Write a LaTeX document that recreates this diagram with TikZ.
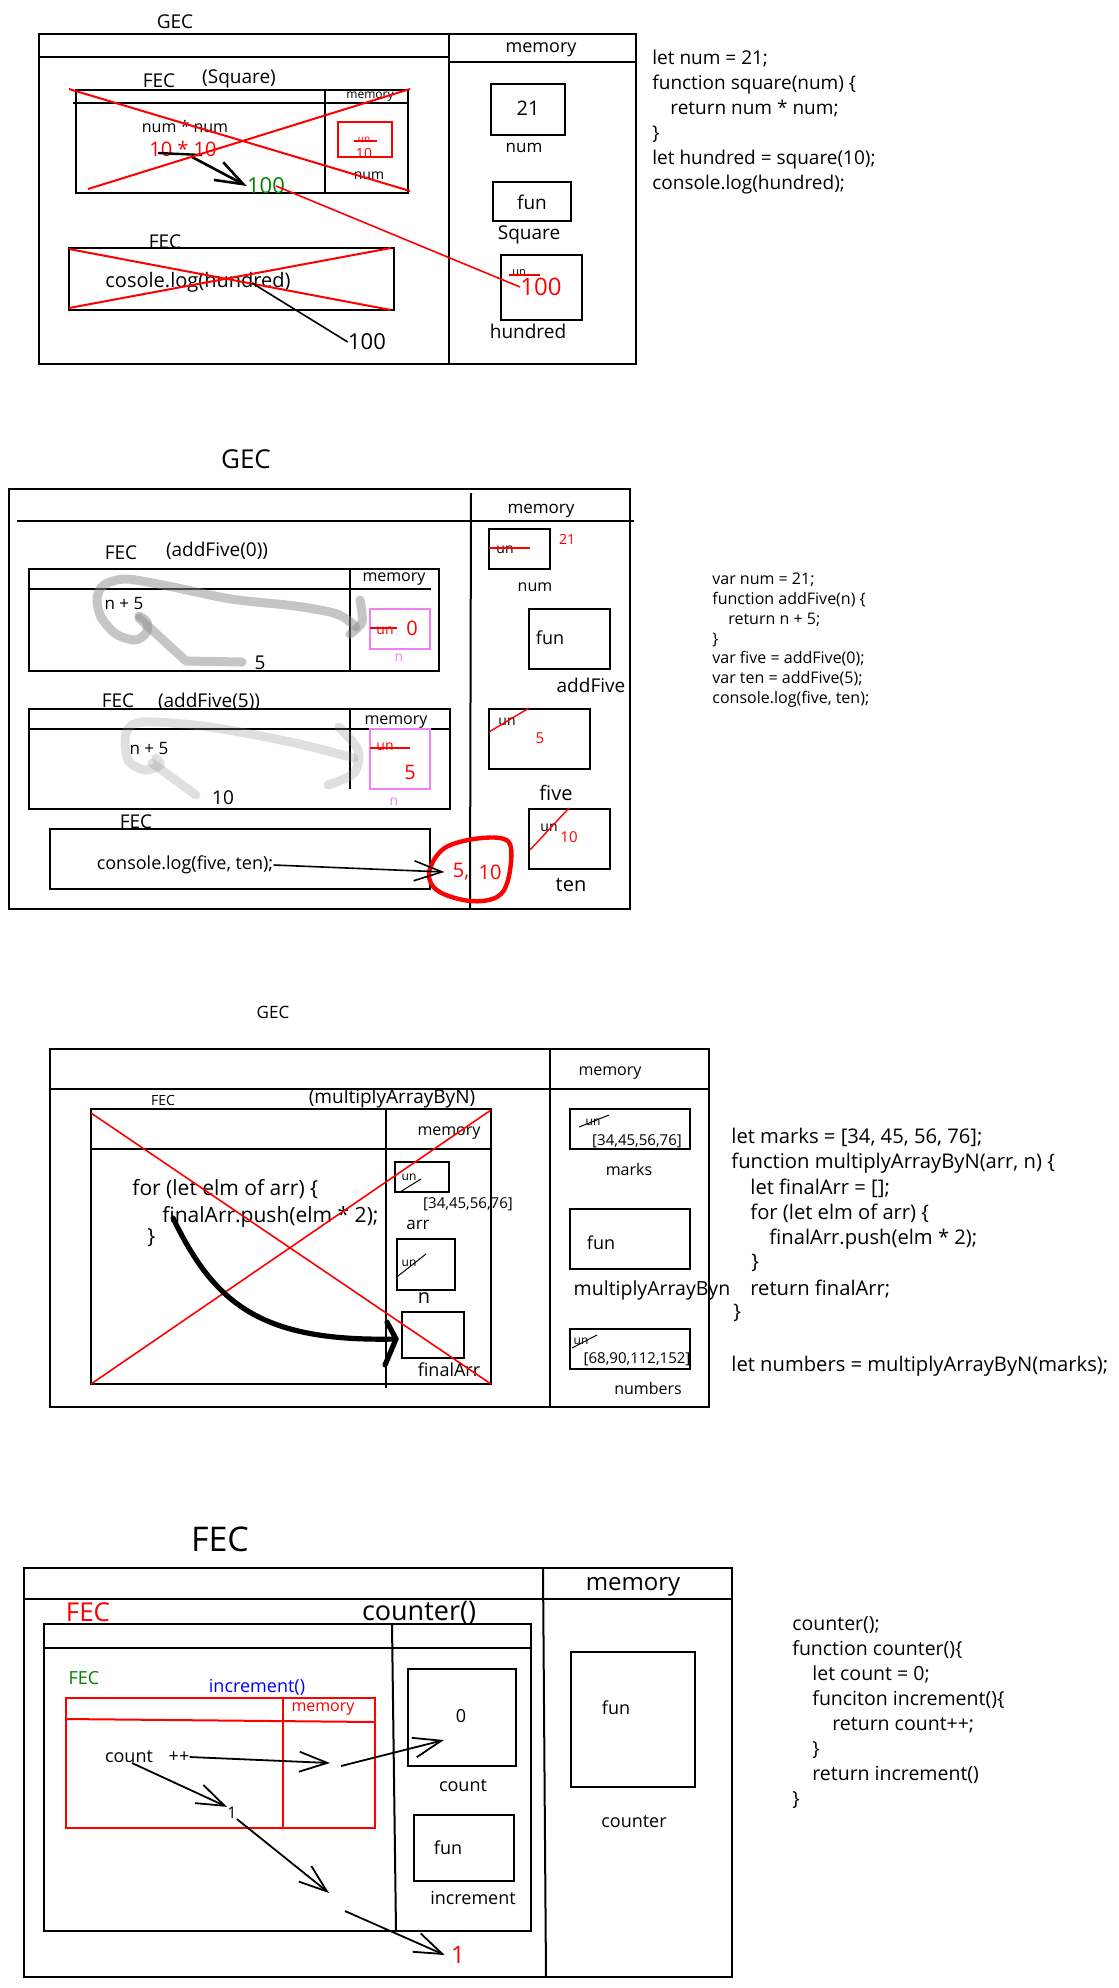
\documentclass[tikz,border=0pt]{standalone}
\usepackage{fontspec}
\setmainfont{Open Sans}
\usetikzlibrary{arrows.meta}
% font size given in drawing units (1 unit = 0.5pt)
\newcommand\px[1]{\fontsize{\fpeval{#1*0.5}pt}{\fpeval{#1*0.6}pt}\selectfont}
\newcommand\ind[1]{\hspace*{\fpeval{#1*0.5}pt}}
\definecolor{inkred}{HTML}{FF0000}
\definecolor{inkgreen}{HTML}{008000}
\definecolor{inkblue}{HTML}{0000FF}
\definecolor{inkviolet}{HTML}{EE82EE}
\tikzset{
  lab/.style={inner sep=0pt, font=\px{#1}},
  lab/.default=18,
  code/.style={inner sep=0pt, anchor=base west, font=\px{#1}},
  frame/.style={draw=black, line width=1pt},
  thinframe/.style={draw=black, line width=0.6pt},
  cross/.style={draw=inkred, line width=1pt},
  strike/.style={draw=inkred, line width=0.7pt},
  slash/.style={draw=black, line width=0.5pt},
  vbox/.style={draw=inkviolet, line width=0.7pt},
  hl/.style={draw=black!45, line width=4.5pt, line cap=round, line join=round, opacity=0.5},
  hlfaint/.style={hl, opacity=0.28},
  ptr/.style={draw=black, line width=0.9pt, -{Straight Barb[length=14pt,width=10pt]}},
}
\begin{document}
\begin{tikzpicture}[x=0.5pt,y=-0.5pt]
\useasboundingbox (0,0) rectangle (1119,1988);

% ================= square(10) =================
\node[lab=19] (gec1) at (175,22) {GEC};
\draw[frame] (39,34) rectangle (636,364);
\draw[frame] (39,57) -- (449,57);
\draw[frame] (449,62) -- (636,62);
\draw[frame] (449,34) -- (449,364);
\node[lab=18] (mem1) at (541,50) {memory};
\draw[frame] (491,84) rectangle (565,135);
\node[lab=20] (v21) at (528,108) {21};
\node[lab=17] (numlab1) at (524,148) {num};
\draw[frame] (493,182) rectangle (571,221);
\node[lab=19] (fun1) at (532,202) {fun};
\node[lab=19] (sqlab) at (529,235) {Square};
\draw[frame] (501,255) rectangle (582,320);
\node[lab=11] (un1) at (519,273) {un};
\draw[strike] (509,275) -- (540,275);
\node[lab=24, text=inkred] (h100) at (541,287) {100};
\node[lab=19] (hlab) at (528,331) {hundred};

\node[lab=19] (fec1) at (159,81) {FEC};
\node[lab=19] (fec1n) at (239,79) {(Square)};
\draw[frame] (76,90) rectangle (408,193);
\draw[frame] (73,103) -- (408,103);
\draw[frame] (325,90) -- (325,193);
\node[lab=12] (mem1b) at (370,97) {memory};
\node[lab=16] (expr1) at (185,126) {num * num};
\node[lab=20, text=inkred] (expr1v) at (183,149) {10 * 10};
\draw[draw=inkred, line width=1.2pt] (338,122) rectangle (392,157);
\node[lab=10, text=inkred] (un1b) at (364,140) {un};
\draw[strike] (354,141) -- (377,141);
\node[lab=14, text=inkred] (v10) at (364,153) {10};
\node[lab=14] (numlab1b) at (369,176) {num};
\node[lab=22, text=inkgreen] (g100) at (266,186) {100};
\coordinate (ret1) at (158,153);
\draw[line width=1.2pt] (ret1) -- (202,155);
\draw[ptr, line width=1.3pt] (192,157) -- (g100.west);
\draw[cross] (69,89) -- (410,191);
\draw[cross] (88,189) -- (410,89);
\draw[draw=inkred, line width=0.8pt] ([xshift=5pt]g100.center) -- (h100.west);

\node[lab=19] (fec1c) at (165,242) {FEC};
\draw[frame] (69,248) rectangle (394,310);
\node[lab=20] (log1) at (198,282) {cosole.log(hundred)};
\draw[cross] (69,249) -- (391,310);
\draw[cross] (69,308) -- (391,248);
\node[lab=22] (out100) at (367,342) {100};
\draw[line width=0.8pt] (252,283) -- (out100.west);

\node[code=19] (c1a) at (652,64) {let num = 21;};
\node[code=19] (c1b) at (652,89) {function square(num) \{};
\node[code=19] (c1c) at (652,114) {\ind{18}return num * num;};
\node[code=19] (c1d) at (652,139) {\}};
\node[code=19] (c1e) at (652,164) {let hundred = square(10);};
\node[code=19] (c1f) at (652,189) {console.log(hundred);};

% ================= addFive =================
\node[lab=26] (gec2) at (246,459) {GEC};
\draw[frame] (9,489) rectangle (630,909);
\draw[frame] (17,521) -- (634,521);
\draw[frame] (471,493) -- (470,909);
\node[lab=17] (mem2) at (541,511) {memory};
\draw[frame] (489,529) rectangle (550,569);
\node[lab=14] (un2a) at (505,550) {un};
\draw[strike] (489,548) -- (530,548);
\node[lab=14, text=inkred] (r21) at (567,539) {21};
\node[lab=16] (numlab2) at (535,587) {num};
\draw[frame] (529,609) rectangle (610,669);
\node[lab=18] (fun2) at (550,638) {fun};
\node[lab=19] (addlab) at (591,685) {addFive};
\draw[frame] (489,709) rectangle (590,769);
\node[lab=14] (un2b) at (507,722) {un};
\draw[strike] (489,732) -- (529,708);
\node[lab=15, text=inkred] (r5) at (540,738) {5};
\node[lab=20] (fivelab) at (556,793) {five};
\draw[frame] (529,809) rectangle (610,869);
\node[lab=14] (un2c) at (549,828) {un};
\draw[strike] (530,850) -- (569,808);
\node[lab=15, text=inkred] (r10) at (569,837) {10};
\node[lab=20] (tenlab) at (571,885) {ten};

% addFive(0)
\node[lab=19] (fec2a) at (121,553) {FEC};
\node[lab=19] (fec2an) at (217,551) {(addFive(0))};
\draw[frame] (29,569) rectangle (439,671);
\draw[frame] (29,589) -- (431,589);
\draw[frame] (350,569) -- (350,671);
\node[lab=16] (mem2a) at (394,579) {memory};
\draw[hl] plot[smooth] coordinates {(360,600) (362,622) (350,634)};
\draw[hl] plot[smooth] coordinates {(356,627) (337,614) (295,606) (231,599) (168,586) (126,579) (104,585) (97,598) (101,617) (116,634) (135,640) (146,633) (147,622) (139,616)};
\draw[hl] (139,618) -- (186,661) -- (242,662);
\node[lab=17] (np5a) at (124,604) {n + 5};
\node[lab=19] (res5) at (260,663) {5};
\draw[vbox] (370,609) rectangle (430,649);
\node[lab=14, text=inkred] (un2d) at (385,631) {un};
\draw[strike] (370,628) -- (397,628);
\node[lab=20, text=inkred] (r0) at (412,628) {0};
\node[lab=14, text=inkviolet] (nlab1) at (399,658) {n};

% addFive(5)
\node[lab=19] (fec2b) at (118,701) {FEC};
\node[lab=19] (fec2bn) at (209,702) {(addFive(5))};
\draw[frame] (29,709) rectangle (450,809);
\draw[frame] (29,729) -- (450,729);
\draw[frame] (350,709) -- (350,789);
\node[lab=16] (mem2b) at (396,722) {memory};
\draw[hlfaint] plot[smooth] coordinates {(339,727) (358,750) (354,773) (328,785)};
\draw[hlfaint] plot[smooth] coordinates {(354,758) (295,743) (210,727) (143,722) (126,733) (128,760) (145,770) (160,765) (156,758)};
\draw[hlfaint] (152,763) -- (196,795);
\node[lab=17] (np5b) at (149,749) {n + 5};
\node[lab=19] (res10) at (223,798) {10};
\draw[vbox] (370,729) rectangle (430,789);
\node[lab=14, text=inkred] (un2e) at (385,747) {un};
\draw[strike] (370,748) -- (410,748);
\node[lab=20, text=inkred] (r5b) at (410,772) {5};
\node[lab=14, text=inkviolet] (nlab2) at (394,802) {n};

% console.log(five, ten)
\node[lab=19] (fec2c) at (136,822) {FEC};
\draw[frame] (50,829) rectangle (430,889);
\node[lab=18] (log2) at (185,865) {console.log(five, ten);};
\draw[draw=inkred, line width=2.2pt, line join=round] plot[smooth cycle, tension=0.6] coordinates {(429,873) (442,850) (468,840) (500,838) (511,848) (508,880) (497,897) (470,901) (438,891)};
\node[lab=20, text=inkred] (o5) at (461,872) {5,};
\node[lab=20, text=inkred] (o10) at (490,872) {10};
\draw[ptr, line width=0.8pt] (log2.east) -- ([xshift=-4pt]o5.west);

\node[code=16] (c2a) at (712,584) {var num = 21;};
\node[code=16] (c2b) at (712,604) {function addFive(n) \{};
\node[code=16] (c2c) at (712,624) {\ind{16}return n + 5;};
\node[code=16] (c2d) at (712,644) {\}};
\node[code=16] (c2e) at (712,663) {var five = addFive(0);};
\node[code=16] (c2f) at (712,683) {var ten = addFive(5);};
\node[code=16] (c2g) at (712,703) {console.log(five, ten);};

% ================= multiplyArrayByN =================
\node[lab=17] (gec3) at (273,1012) {GEC};
\draw[thinframe] (50,1049) rectangle (709,1407);
\draw[thinframe] (50,1089) -- (709,1089);
\draw[thinframe] (550,1049) -- (550,1407);
\node[lab=16] (mem3) at (610,1073) {memory};
\node[lab=14] (fec3) at (163,1100) {FEC};
\node[lab=19] (fec3n) at (392,1099) {(multiplyArrayByN)};
\draw[thinframe] (91,1109) rectangle (491,1384);
\draw[thinframe] (91,1149) -- (491,1149);
\draw[thinframe] (386,1109) -- (386,1388);
\node[lab=16] (mem3b) at (449,1133) {memory};
\node[code=21] (loop1) at (132,1195) {for (let elm of arr) \{};
\node[code=21] (loop2) at (162,1222) {finalArr.push(elm * 2);};
\node[code=21] (loop3) at (147,1243) {\}};
\draw[thinframe] (395,1162) rectangle (449,1192);
\node[lab=12] (un3a) at (409,1177) {un};
\draw[slash] (400,1192) -- (421,1179);
\node[lab=15] (arrv) at (468,1204) {[34,45,56,76]};
\node[lab=17] (arrlab) at (418,1225) {arr};
\draw[thinframe] (397,1239) rectangle (455,1290);
\node[lab=12] (un3b) at (409,1263) {un};
\draw[slash] (398,1276) -- (426,1254);
\node[lab=20] (nlab3) at (424,1298) {n};
\draw[thinframe] (402,1312) rectangle (464,1358);
\coordinate (fa) at (396,1339);
\node[lab=18] (falab) at (449,1370) {finalArr};
\draw[cross, line width=0.8pt] (91,1113) -- (491,1384);
\draw[cross, line width=0.8pt] (91,1384) -- (491,1110);
\draw[line width=2.6pt, line cap=round, line join=round] (173,1218) .. controls (215,1305) and (262,1342) .. (fa);
\draw[line width=2.6pt, line cap=round, line join=round] (387,1322) -- (fa) -- (385,1365);

\draw[thinframe] (570,1109) rectangle (690,1149);
\node[lab=12] (un3c) at (593,1122) {un};
\draw[slash] (579,1127) -- (609,1115);
\node[lab=15] (marksv) at (637,1141) {[34,45,56,76]};
\node[lab=16] (markslab) at (629,1169) {marks};
\draw[thinframe] (570,1209) rectangle (690,1269);
\node[lab=18] (fun3) at (601,1243) {fun};
\node[lab=19.5] (mablab) at (652,1290) {multiplyArrayByn};
\draw[thinframe] (570,1329) rectangle (690,1369);
\node[lab=12] (un3d) at (581,1341) {un};
\draw[slash] (572,1348) -- (597,1335);
\node[lab=15] (numsv) at (637,1359) {[68,90,112,152]};
\node[lab=16] (numslab) at (648,1388) {numbers};

\node[code=20.2] (c3a) at (731,1143) {let marks = [34, 45, 56, 76];};
\node[code=20.2] (c3b) at (731,1168) {function multiplyArrayByN(arr, n) \{};
\node[code=20.2] (c3c) at (750,1194) {let finalArr = [];};
\node[code=20.2] (c3d) at (750,1219) {for (let elm of arr) \{};
\node[code=20.2] (c3e) at (769,1244) {finalArr.push(elm * 2);};
\node[code=20.2] (c3f) at (751,1268) {\}};
\node[code=20.2] (c3g) at (750,1295) {return finalArr;};
\node[code=20.2] (c3h) at (733,1318) {\}};
\node[code=20.2] (c3i) at (731,1371) {let numbers = multiplyArrayByN(marks);};

% ================= counter() =================
\node[lab=34] (fec4) at (220,1539) {FEC};
\draw[frame] (24,1568) rectangle (732,1977);
\draw[frame] (24,1599) -- (732,1599);
\draw[frame] (543,1568) -- (546,1977);
\node[lab=24] (mem4) at (633,1587) {memory};
\node[lab=26, text=inkred] (fec4r) at (88,1612) {FEC};
\node[lab=27] (ctrname) at (419,1613) {counter()};
\draw[frame] (44,1624) rectangle (531,1931);
\draw[frame] (44,1648) -- (531,1648);
\draw[frame] (392,1624) -- (396,1931);
\node[lab=18, text=inkgreen] (fec4g) at (84,1678) {FEC};
\node[lab=18, text=inkblue] (incname) at (257,1687) {increment()};
\draw[draw=inkred, line width=1pt] (66,1698) rectangle (375,1828);
\draw[draw=inkred, line width=1pt] (66,1719) -- (375,1722);
\draw[draw=inkred, line width=1pt] (283,1698) -- (283,1828);
\node[lab=16, text=inkred] (mem4r) at (323,1709) {memory};
\node[lab=18] (cnt) at (129,1757) {count};
\node[lab=18] (pp) at (179,1757) {++};
\draw[frame] (408,1669) rectangle (516,1766);
\node[lab=18] (zero) at (461,1716) {0};
\node[lab=18] (cntlab) at (463,1786) {count};
\node[lab=16] (one) at (232,1813) {1};
\node[lab=24, text=inkred] (oner) at (458,1955) {1};
\draw[frame] (414,1815) rectangle (514,1881);
\node[lab=18] (fun4a) at (448,1848) {fun};
\node[lab=18] (inclab) at (473,1898) {increment};
\draw[frame] (571,1652) rectangle (695,1787);
\node[lab=18] (fun4b) at (616,1708) {fun};
\node[lab=18] (ctrlab) at (634,1822) {counter};
\coordinate (mid1) at (330,1763);
\coordinate (mid2) at (341,1766);
\coordinate (mid3) at (329,1893);
\coordinate (mid4) at (345,1911);
\draw[ptr] (pp.east) -- (mid1);
\draw[ptr] (mid2) -- (444,1740);
\draw[ptr] (132,1763) -- (one.north west);
\draw[ptr] (one.south east) -- (mid3);
\draw[ptr] (mid4) -- ([xshift=-3pt]oner.west);

\node[code=19.5] (c4a) at (792,1630) {counter();};
\node[code=19.5] (c4b) at (792,1655) {function counter()\{};
\node[code=19.5] (c4c) at (812,1680) {let count = 0;};
\node[code=19.5] (c4d) at (812,1705) {funciton increment()\{};
\node[code=19.5] (c4e) at (832,1730) {return count++;};
\node[code=19.5] (c4f) at (812,1755) {\}};
\node[code=19.5] (c4g) at (812,1780) {return increment()};
\node[code=19.5] (c4h) at (792,1805) {\}};
\end{tikzpicture}
\end{document}
